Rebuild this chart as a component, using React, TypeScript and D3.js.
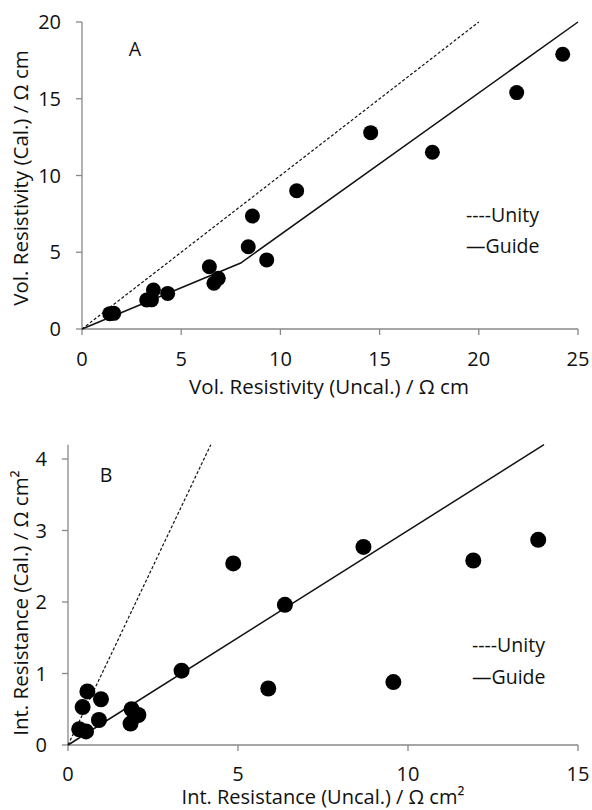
import React from "react";
import * as d3 from "d3";

// Panel A: volume resistivity
const volUncal = [1.4, 1.6, 3.26, 3.5, 3.6, 4.32, 6.42, 6.65, 6.87, 8.38, 8.59, 9.31, 10.82, 14.55, 17.66, 21.91, 24.23];
const volCal = [1.0, 1.02, 1.89, 1.9, 2.54, 2.32, 4.06, 2.98, 3.3, 5.36, 7.36, 4.5, 9.01, 12.79, 11.51, 15.4, 17.9];
const volGuideX = [0, 8, 25];
const volGuideY = [0, 4.3, 20];
const volUnityX = [0, 20];
const volXTicks = [0, 5, 10, 15, 20, 25];
const volYTicks = [0, 5, 10, 15, 20];

// Panel B: interfacial resistance
const intUncal = [4.86, 6.38, 3.34, 5.89, 0.57, 0.43, 0.97, 0.91, 0.33, 0.53, 1.87, 2.07, 1.84, 8.69, 11.92, 13.83, 9.57];
const intCal = [2.54, 1.96, 1.04, 0.79, 0.75, 0.53, 0.64, 0.35, 0.22, 0.19, 0.5, 0.42, 0.3, 2.77, 2.58, 2.87, 0.88];
const intGuideX = [0, 14];
const intGuideY = [0, 4.2];
const intUnityX = [0, 4.2];
const intXTicks = [0, 5, 10, 15];
const intYTicks = [0, 1, 2, 3, 4];

const FONT = "'Open Sans', 'Liberation Sans', sans-serif";
const AXIS = "#888";
const INK = "#111";

interface PanelProps {
  left: number;
  right: number;
  top: number;
  bottom: number;
  xMax: number;
  yMax: number;
  yAxisTop: number;
  xs: number[];
  ys: number[];
  guideX: number[];
  guideY: number[];
  unityX: number[];
  xTicks: number[];
  yTicks: number[];
  tag: string;
  tagPos: [number, number];
  legendPos: [number, number];
  legendGap: number;
  xTitle: string;
  yTitle: string;
  yTitleCenter: number;
  xTitleCenter: number;
  xTickY: number;
  xTitleY: number;
  xTitleSize: number;
  yTickX: number;
  r: number;
}

const Panel = (p: PanelProps) => {
  const x = d3.scaleLinear().domain([0, p.xMax]).range([p.left, p.right]);
  const y = d3.scaleLinear().domain([0, p.yMax]).range([p.bottom, p.top]);
  const line = d3
    .line<[number, number]>()
    .x((d) => x(d[0]))
    .y((d) => y(d[1]));
  const guide = p.guideX.map((v, i) => [v, p.guideY[i]] as [number, number]);
  const unity = p.unityX.map((v) => [v, v] as [number, number]);

  return (
    <g fontFamily={FONT} fill={INK}>
      {/* axes */}
      <line x1={x(0)} x2={x(0)} y1={y(p.yAxisTop)} y2={y(0)} stroke={AXIS} strokeWidth={1.3} />
      <line x1={x(0)} x2={x(p.xMax)} y1={y(0)} y2={y(0)} stroke={AXIS} strokeWidth={1.3} />
      {p.yTicks.map((t) => (
        <g key={"y" + t}>
          <line x1={x(0) - 6} x2={x(0)} y1={y(t)} y2={y(t)} stroke={AXIS} strokeWidth={1.3} />
          <text x={p.yTickX} y={y(t)} dy="0.36em" textAnchor="end" fontSize={20}>
            {t}
          </text>
        </g>
      ))}
      {p.xTicks.map((t) => (
        <g key={"x" + t}>
          <line x1={x(t)} x2={x(t)} y1={y(0)} y2={y(0) + 6} stroke={AXIS} strokeWidth={1.3} />
          <text x={x(t)} y={p.xTickY} dy="0.36em" textAnchor="middle" fontSize={20}>
            {t}
          </text>
        </g>
      ))}
      <text x={p.xTitleCenter} y={p.xTitleY} dy="0.36em" textAnchor="middle" fontSize={p.xTitleSize}>
        {p.xTitle}
      </text>
      <text
        transform={`translate(21,${p.yTitleCenter}) rotate(-90)`}
        dy="0.36em"
        textAnchor="middle"
        fontSize={20.5}
      >
        {p.yTitle}
      </text>

      {/* lines */}
      <path d={line(unity) || ""} fill="none" stroke={INK} strokeWidth={1.2} strokeDasharray="3,2" />
      <path d={line(guide) || ""} fill="none" stroke={INK} strokeWidth={1.5} />

      {/* points */}
      {p.xs.map((v, i) => (
        <circle key={i} cx={x(v)} cy={y(p.ys[i])} r={p.r} fill="#000" />
      ))}

      <text x={p.tagPos[0]} y={p.tagPos[1]} dy="0.36em" textAnchor="middle" fontSize={19.5}>
        {p.tag}
      </text>
      <text x={p.legendPos[0]} y={p.legendPos[1]} dy="0.36em" fontSize={19.5}>
        ----Unity
      </text>
      <text x={p.legendPos[0]} y={p.legendPos[1] + p.legendGap} dy="0.36em" fontSize={19.5}>
        —Guide
      </text>
    </g>
  );
};

const App = () => {
  return (
    <svg
      width={592}
      height={810}
      style={{ position: "absolute", left: 0, top: 0, background: "#fff" }}
    >
      <Panel
        left={82}
        right={578}
        top={22}
        bottom={329}
        xMax={25}
        yMax={20}
        yAxisTop={20}
        xs={volUncal}
        ys={volCal}
        guideX={volGuideX}
        guideY={volGuideY}
        unityX={volUnityX}
        xTicks={volXTicks}
        yTicks={volYTicks}
        tag="A"
        tagPos={[135, 49]}
        legendPos={[466, 215]}
        legendGap={31}
        xTitle="Vol. Resistivity (Uncal.) / Ω cm"
        yTitle="Vol. Resistivity (Cal.) / Ω cm"
        yTitleCenter={178}
        xTitleCenter={329}
        xTickY={359}
        xTitleY={387}
        xTitleSize={20.5}
        yTickX={61}
        r={7.5}
      />
      <Panel
        left={68}
        right={578}
        top={459}
        bottom={745}
        xMax={15}
        yMax={4}
        yAxisTop={4.2}
        xs={intUncal}
        ys={intCal}
        guideX={intGuideX}
        guideY={intGuideY}
        unityX={intUnityX}
        xTicks={intXTicks}
        yTicks={intYTicks}
        tag="B"
        tagPos={[106, 475]}
        legendPos={[472, 645]}
        legendGap={32}
        xTitle="Int. Resistance (Uncal.) / Ω cm²"
        yTitle="Int. Resistance (Cal.) / Ω cm²"
        yTitleCenter={603}
        xTitleCenter={323}
        xTickY={774}
        xTitleY={797}
        xTitleSize={20}
        yTickX={47}
        r={8}
      />
    </svg>
  );
};

export default App;
